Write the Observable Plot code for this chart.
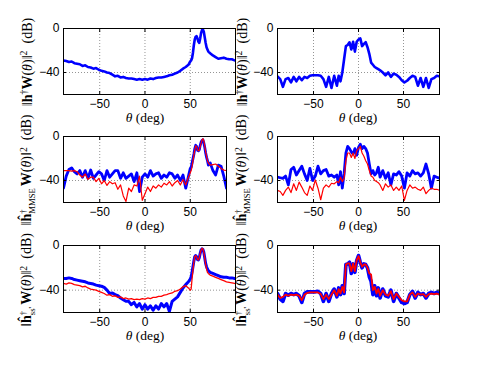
<!DOCTYPE html>
<html><head><meta charset="utf-8">
<script src="https://cdn.jsdelivr.net/npm/d3@7"></script>
<script src="https://cdn.jsdelivr.net/npm/@observablehq/plot@0.6"></script>
<style>
body{margin:0;background:#fff}
#root{position:relative;width:485px;height:365px;overflow:hidden;background:#fff}
.pan{position:absolute}
.lab{position:absolute;white-space:nowrap;font-family:"Liberation Serif","Times New Roman",serif;font-size:13.5px;color:#000;line-height:0.9}
.ylab{transform:translate(-50%,-50%) rotate(-90deg);font-size:14px}
.xlab{transform:translate(-50%,-50%)}
.lab sup{font-size:0.7em;vertical-align:0.45em;line-height:0}
.st{display:inline-flex;flex-direction:column;vertical-align:middle;font-size:0.62em;line-height:1.05;margin-right:2px}
</style>
</head><body><div id="root"></div><script>
// angle samplings (deg)
const thetaL = [...d3.range(-90, 49, 3), ...d3.range(50, 71, 1), ...d3.range(72, 100, 3)];
const thetaM = [...d3.range(-90, 49, 3), ...d3.range(50, 71, 1), ...d3.range(72, 91, 3)];
const thetaR = [...d3.range(-90, -23, 3), ...d3.range(-22, 23, 2), ...d3.range(24, 91, 3)];

const xTicks = [-50, 0, 50];
const yTicks = [-40, 0];

// Panel 1 (top-left)
const p1Blue = [-29,-29.5,-30.5,-30,-31.5,-32,-32.5,-34,-33.5,-35,-35.5,-36.5,-36,-37.5,-38.5,-39,-40,-40.5,-42,-43.5,-43,-44.5,-44,-45,-45.5,-45.5,-46,-46.5,-46,-46.5,-46,-46.5,-45.5,-46,-45,-44.5,-44.5,-44,-43.5,-42.5,-42,-41,-40,-38.5,-36.5,-35,-33,
  -30,-29,-27,-22,-15,-10,-7.5,-7,-9,-12,-13,-9,-4,-1.5,-1,-3,-8,-13,-17,-19,-21,
  -22.5,-24.5,-26,-27.5,-27,-26.5,-27.5,-28,-28,-29];
// Panel 2 (top-right)
const p2Blue = [-43.5,-46,-53,-46,-45,-49,-44,-48,-44,-47,-44,-45,-43,-42.5,-42.5,-42.5,-43,-46,-53,-44,-54,-43,-52,
  -43,-48,-40,-28,-16,-15,-12.5,-19,-12,-21,-12,-10,-9,-16,-14,-12.5,-17,-23,-31,-33,-35,-36,-37,
  -38,-40,-42.5,-40,-44,-41,-42,-44,-47,-49,-47.5,-45,-43,-44,-52,-45,-53,-45,-54,-46,-45,-43,-43.5];
// Panel 3 (middle-left)
const p3Blue = [-47,-36,-30,-28.5,-32,-34,-31,-37,-31,-38,-30.5,-38,-35,-32,-34,-40,-31,-37,-34,-31,-31,-38,-33,-38,-36,-34,-41,-33,-50,-37,-34,-37,-31,-36,-34,-33,-38,-35,-37,-33,-34,-38,-35,-40,-35,-47,-36,
  -29,-28,-24,-20,-16,-11,-8,-9,-12.5,-13,-12,-8,-5,-3.5,-3,-6,-10,-15,-19,-22,-26,
  -24,-31,-35,-26,-27,-36,-47];
const p3Red = [-31,-31,-31,-31.5,-31,-32,-35,-37,-34,-39,-37,-37,-41,-38,-43,-40,-44.5,-41,-43,-42,-48,-44,-54,-59,-47,-50,-44,-45,-36,-58,-52,-46,-50,-45,-47,-44,-46,-42.5,-44,-41,-45,-42,-40,-44,-39,-44,-37,
  -33,-31,-27,-22,-17,-12,-8.5,-9,-12,-13,-12.5,-9,-6,-3,-2,-4,-9,-14,-18,-22,-24,
  -26,-25.5,-25,-27,-29,-30.5,-31];
// Panel 4 (middle-right)
const p4Blue = [-37,-37.5,-38,-36,-44,-30,-28,-35,-31,-27,-34,-40,-29,-40,-36,-27,-34,-31,-30,-36,-35,-37,-35,
  -44,-32,-47,-34,-15,-9,-11,-14,-16,-11,-17,-10,-7,-11,-9,-11,-15,-25,-34,-31,-35,-33,-28,
  -37,-31,-38,-33,-44,-34,-35,-32,-36,-47,-33,-36,-31,-34,-33,-36,-33,-25,-34,-47,-36,-37,-38];
const p4Red = [-49,-50,-53.5,-49,-46,-51,-43,-49,-41.5,-46,-51,-53.5,-45,-49,-39.5,-47,-57.5,-47,-44,-46,-42.5,-43,-41,
  -42,-37,-41,-38,-22,-15,-15,-19,-15,-20,-13,-11,-9,-15,-18,-22,-25,-31,-36,-37,-40,-41,-42,
  -44,-49,-43,-46,-44,-49,-46,-49,-45,-58,-49,-44,-47,-46,-48,-49,-46,-52,-49,-47,-48,-48,-49];
// Panel 5 (bottom-left)
const p5Blue = [-29.5,-29.5,-29,-29.5,-30.5,-31,-31.5,-32,-32.5,-33.5,-34,-34.5,-35.5,-36,-36.5,-37.5,-40,-43,-42.5,-44,-45,-47,-48.5,-50,-50,-53,-51,-55,-52,-57,-53,-57,-54,-58,-54,-57,-52,-55,-52,-59,-50,-48,-46,-42,-38,-35,-32.5,
  -30,-28,-24,-19,-14,-10,-9,-10,-12.5,-13,-11,-7,-4,-3,-3.5,-6,-11,-16,-19,-21,-22.5,
  -24,-25,-26,-27,-28,-28.5,-28.5,-29,-29,-29.5];
const p5Red = [-34,-34.5,-33.5,-34,-35,-35.5,-36,-37,-36.5,-38,-39,-39.5,-40,-41,-42,-43,-44.5,-44,-45.5,-45,-46.5,-46,-47.5,-47,-48,-47.5,-48.5,-48,-48.5,-47.5,-48,-47,-47.5,-46.5,-46.5,-45.5,-45.5,-44.5,-44,-43,-42.5,-41,-40.5,-39,-37,-36,-38,
  -40,-39,-30,-22,-15,-10,-9,-10,-12.5,-13,-11,-7,-4,-2.5,-3,-6,-11,-17,-21,-24,-25,
  -26.5,-27.5,-28.5,-29.5,-30.5,-31.5,-32.5,-33,-33.5,-34];
// Panel 6 (bottom-right)
const p6Blue = [-43,-48,-50,-43,-44.5,-43,-44,-43,-45,-51,-43,-41.5,-41.5,-41.5,-41.5,-41,-43,-50,-43,-50,-43,-39,-46,
  -38,-44,-36,-43,-17,-16.5,-15,-25,-16.5,-24,-13.5,-9,-15,-20,-16.5,-17,-20,-28,-32,-44,-36,-45,-38,
  -47,-39,-45,-46,-40,-50,-43,-47,-51,-52,-51,-44,-41,-47,-42,-44,-43,-47,-43,-42,-43,-42,-43];
const p6Red = [-44,-47,-46,-44,-45,-44,-44.5,-44,-45,-49,-44,-42.5,-42,-42,-42,-42,-43.5,-48,-44,-48,-44,-40,-45,
  -39,-43,-37,-42,-17,-16,-16,-23,-16,-23,-13,-9.5,-15,-19,-17,-17,-20,-25,-26,-40,-37,-43,-39,
  -45,-40,-44,-45,-41,-48,-43,-46,-49,-50,-50,-44,-42,-46,-43,-44,-43.5,-46,-43.5,-43,-43.5,-43,-44];

const BLUE = "#0000ff", RED = "#ff0000";

const yLab1 = '‖<b>h</b><sup>†</sup><b>W</b>(<i>θ</i>)‖<sup>2</sup>&nbsp;&nbsp;(dB)';
const yLab2 = '‖<b>ĥ</b><span class="st"><span>†</span><span>MMSE</span></span><b>W</b>(<i>θ</i>)‖<sup>2</sup>&nbsp;&nbsp;(dB)';
const yLab3 = "‖<b>ĥ</b><span class=\"st\"><span>†</span><span>ss'</span></span><b>W</b>(<i>θ</i>)‖<sup>2</sup>&nbsp;&nbsp;(dB)";
const xLab = '<i>θ</i> (deg)';

const panels = [
  {x0:63, x1:235, y0:28, y1:94, dom:[-90,100], theta:thetaL, series:[{v:p1Blue,c:BLUE,w:2.6}], yl:yLab1, ylx:28, xlx:145},
  {x0:277, x1:439, y0:28, y1:94, dom:[-90,90], theta:thetaR, series:[{v:p2Blue,c:BLUE,w:2.6}], yl:yLab1, ylx:243, xlx:358},
  {x0:63, x1:226, y0:136, y1:202, dom:[-90,90], theta:thetaM, series:[{v:p3Blue,c:BLUE,w:2.8},{v:p3Red,c:RED,w:1.2}], yl:yLab2, ylx:28, xlx:145},
  {x0:277, x1:439, y0:136, y1:202, dom:[-90,90], theta:thetaR, series:[{v:p4Blue,c:BLUE,w:2.8},{v:p4Red,c:RED,w:1.2}], yl:yLab2, ylx:243, xlx:358},
  {x0:63, x1:235, y0:245, y1:312, dom:[-90,100], theta:thetaL, series:[{v:p5Blue,c:BLUE,w:3},{v:p5Red,c:RED,w:1.3}], yl:yLab3, ylx:28, xlx:145},
  {x0:277, x1:439, y0:245, y1:312, dom:[-90,90], theta:thetaR, series:[{v:p6Blue,c:BLUE,w:3.6},{v:p6Red,c:RED,w:1.8}], yl:yLab3, ylx:243, xlx:358}
];

const root = document.getElementById("root");
const ml = 40, mr = 8, mt = 8, mb = 20;
const gridStyle = {stroke:"#7a7a7a", strokeWidth:0.8, strokeDasharray:"1,2"};
const tickOnly = {tickSize:3, fill:"none", stroke:"#000", label:null};

for (const p of panels) {
  const marks = [
    Plot.ruleX(xTicks, gridStyle),
    Plot.ruleY([-40], gridStyle)
  ];
  for (const s of p.series) {
    if (s.v.length !== p.theta.length) console.warn("length mismatch", s.v.length, p.theta.length);
    const rows = p.theta.map((t, i) => ({t, v: s.v[i]}));
    marks.push(Plot.line(rows, {x:"t", y:"v", stroke:s.c, strokeWidth:s.w, strokeLinejoin:"round", strokeLinecap:"round", clip:true}));
  }
  marks.push(
    Plot.frame({stroke:"#000", strokeWidth:1}),
    Plot.axisX(xTicks, {anchor:"bottom", tickSize:0, tickPadding:5, label:null}),
    Plot.axisY(yTicks, {anchor:"left", tickSize:0, tickPadding:4, label:null}),
    Plot.axisX(xTicks, {anchor:"bottom", dy:-3, ...tickOnly}),
    Plot.axisX(xTicks, {anchor:"top", dy:3, ...tickOnly}),
    Plot.axisY(yTicks, {anchor:"left", dx:3, ...tickOnly}),
    Plot.axisY(yTicks, {anchor:"right", dx:-3, ...tickOnly})
  );
  const w = p.x1 - p.x0, h = p.y1 - p.y0;
  const chart = Plot.plot({
    width: w + ml + mr, height: h + mt + mb,
    marginLeft: ml, marginRight: mr, marginTop: mt, marginBottom: mb,
    x: {domain: p.dom},
    y: {domain: [-60, 0]},
    style: {fontFamily: "'Liberation Sans', Arial, Helvetica, sans-serif", fontSize: "12px", color: "#000", background: "none", overflow: "visible"},
    marks
  });
  chart.classList.add("pan");
  chart.style.left = (p.x0 - ml) + "px";
  chart.style.top = (p.y0 - mt) + "px";
  root.appendChild(chart);

  const yl = document.createElement("div");
  yl.className = "lab ylab";
  yl.innerHTML = p.yl;
  yl.style.left = p.ylx + "px";
  yl.style.top = ((p.y0 + p.y1) / 2 + 1) + "px";
  root.appendChild(yl);

  const xl = document.createElement("div");
  xl.className = "lab xlab";
  xl.innerHTML = xLab;
  xl.style.left = p.xlx + "px";
  xl.style.top = (p.y1 + 24) + "px";
  root.appendChild(xl);
}
</script></body></html>
